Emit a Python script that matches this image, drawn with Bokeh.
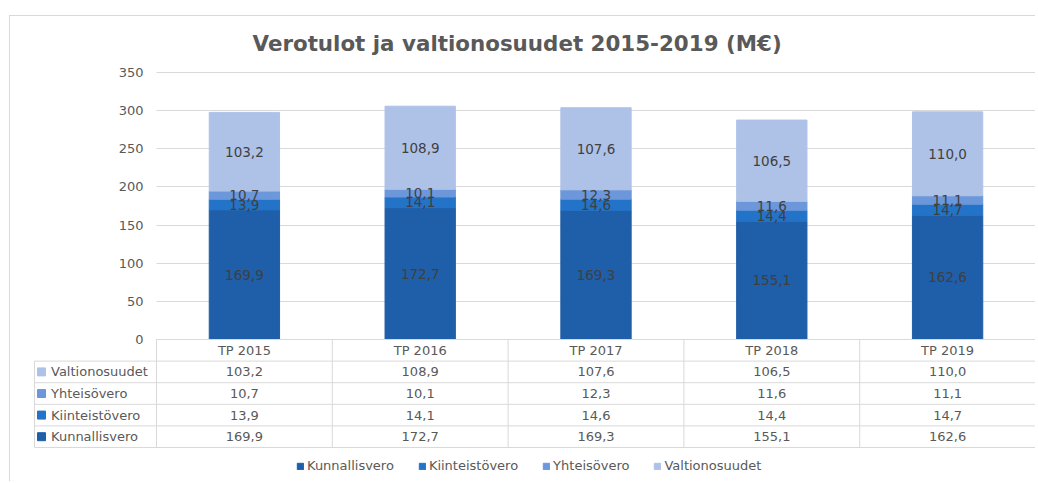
from bokeh.plotting import figure
from bokeh.models import (ColumnDataSource, Range1d, LinearAxis, FixedTicker, Grid,
                          Legend, LegendItem, BoxAnnotation)
from bokeh.core.properties import value
from bokeh.embed import file_html
from bokeh.resources import INLINE

# ---------------- data ----------------
CATEGORIES = ["TP 2015", "TP 2016", "TP 2017", "TP 2018", "TP 2019"]
KUNNALLISVERO = [169.9, 172.7, 169.3, 155.1, 162.6]
KIINTEISTOVERO = [13.9, 14.1, 14.6, 14.4, 14.7]
YHTEISOVERO = [10.7, 10.1, 12.3, 11.6, 11.1]
VALTIONOSUUDET = [103.2, 108.9, 107.6, 106.5, 110.0]
SERIES_NAMES = ["Kunnallisvero", "Kiinteistövero", "Yhteisövero", "Valtionosuudet"]
Y_TICKS = [0, 50, 100, 150, 200, 250, 300, 350]
TITLE = "Verotulot ja valtionosuudet 2015-2019 (M€)"

# ---------------- style / layout ----------------
COLORS = ["#1F5EA8", "#2373C8", "#6C97DA", "#AEC2E8"]
GRID_COLOR = "#D9D9D9"
TXT = "#595959"
LBL = "#404040"
FONT = "DejaVu Sans"

W, H = 1026, 466
TOP = 45
XS, XE = -0.8305, 5.0057
TBL_LEFT = -0.694          # left border of the table's label column
KEY_X = -0.654
NAME_X = -0.600
PX_PER_UNIT = 0.7629
ZERO_FROM_TOP = 278.0
ZERO_FROM_BOTTOM = 143.0
YE = ZERO_FROM_TOP / PX_PER_UNIT
YS = -ZERO_FROM_BOTTOM / PX_PER_UNIT
ROW = 21.6 / PX_PER_UNIT          # table row height in value units


def fmt(v):
    return f"{v:.1f}".replace(".", ",")


series = [KUNNALLISVERO, KIINTEISTOVERO, YHTEISOVERO, VALTIONOSUUDET]
n = len(CATEGORIES)
xs = [i + 0.5 for i in range(n)]

p = figure(width=W, height=H, x_range=Range1d(XS, XE), y_range=Range1d(YS, YE),
           x_axis_location=None, y_axis_location=None,
           toolbar_location=None, output_backend="svg",
           min_border_left=0, min_border_right=0, min_border_bottom=0, min_border_top=TOP)
p.center = []   # drop the default (hidden-axis) grids
p.outline_line_color = None
p.background_fill_color = "white"
p.border_fill_color = "white"
p.margin = (15, 0, 0, 9)
p.styles = {"border-left": "1px solid #D9D9D9", "border-top": "1px solid #D9D9D9"}
p.extra_y_ranges = {"tbl": Range1d(start=-YS / ROW, end=-YE / ROW)}

# title
p.title.text = TITLE
p.title.text_font = FONT
p.title.text_font_style = "bold"
p.title.text_font_size = "21.4px"
p.title.text_color = TXT
p.title.align = "left"
p.title.offset = 242
p.title.standoff = 12

# grid
grid_kwargs = dict(dimension=1, ticker=FixedTicker(ticks=Y_TICKS[1:]),
                   grid_line_color=GRID_COLOR, grid_line_width=1)
has_cross = "cross_bounds" in Grid.properties()
if has_cross:
    grid_kwargs["cross_bounds"] = (0, XE)
p.add_layout(Grid(**grid_kwargs))
if not has_cross:
    p.add_layout(BoxAnnotation(left=XS, right=0, bottom=1, top=YE, fill_color="white",
                               fill_alpha=1, line_color=None, level="underlay"))

# y axis placed at the left edge of the plot area
yaxis = LinearAxis(fixed_location=0, ticker=FixedTicker(ticks=Y_TICKS))
yaxis.axis_line_color = None
yaxis.major_tick_line_color = None
yaxis.minor_tick_line_color = None
yaxis.major_tick_out = 0
yaxis.major_tick_in = 0
yaxis.major_label_standoff = 13
yaxis.major_label_text_font = FONT
yaxis.major_label_text_font_size = "13px"
yaxis.major_label_text_color = TXT
p.add_layout(yaxis, "left")

# stacked bars
data = {"x": xs}
for name, vals in zip(SERIES_NAMES, series):
    data[name] = vals
src = ColumnDataSource(data)
renderers = p.vbar_stack(SERIES_NAMES, x="x", width=0.4, color=COLORS, source=src)

# data labels centred in each segment
bottoms = [0.0] * n
lx, ly, lt = [], [], []
for vals in series:
    for i, v in enumerate(vals):
        lx.append(xs[i])
        ly.append(bottoms[i] + v / 2)
        lt.append(fmt(v))
        bottoms[i] += v
p.text(x=lx, y=ly, text=lt, text_font=value(FONT), text_font_size="13.5px",
       text_color=LBL, text_align="center", text_baseline="middle")

# ---------------- data table ----------------
rows_top_to_bottom = list(reversed(range(len(SERIES_NAMES))))  # Valtionosuudet first
nrows = len(SERIES_NAMES) + 1
seg_x0, seg_y0, seg_x1, seg_y1 = [], [], [], []
seg_x0.append(0); seg_y0.append(0); seg_x1.append(n); seg_y1.append(0)
for r in range(1, nrows + 1):
    seg_x0.append(TBL_LEFT); seg_y0.append(r); seg_x1.append(n); seg_y1.append(r)
for k in range(n + 1):
    seg_x0.append(k); seg_y0.append(0); seg_x1.append(k); seg_y1.append(nrows)
seg_x0.append(TBL_LEFT); seg_y0.append(1); seg_x1.append(TBL_LEFT); seg_y1.append(nrows)
p.segment(x0=seg_x0, y0=seg_y0, x1=seg_x1, y1=seg_y1, y_range_name="tbl",
          line_color=GRID_COLOR, line_width=1)

# header
p.text(x=xs, y=[0.5] * n, text=CATEGORIES, y_range_name="tbl", text_font=value(FONT),
       text_font_size="13px", text_color=TXT, text_align="center", text_baseline="middle")

tx, ty, tt = [], [], []
kx, ky, kc, nx, ny, nt = [], [], [], [], [], []
for row, s in enumerate(rows_top_to_bottom, start=1):
    kx.append(KEY_X); ky.append(row + 0.5); kc.append(COLORS[s])
    nx.append(NAME_X); ny.append(row + 0.5); nt.append(SERIES_NAMES[s])
    for i, v in enumerate(series[s]):
        tx.append(xs[i]); ty.append(row + 0.5); tt.append(fmt(v))
p.scatter(x=kx, y=ky, marker="square", size=8, color=kc, y_range_name="tbl")
p.text(x=nx, y=ny, text=nt, y_range_name="tbl", text_font=value(FONT),
       text_font_size="13px", text_color=TXT, text_align="left", text_baseline="middle")
p.text(x=tx, y=ty, text=tt, y_range_name="tbl", text_font=value(FONT),
       text_font_size="13px", text_color=TXT, text_align="center", text_baseline="middle")

# legend
legend = Legend(items=[LegendItem(label=value(nm), renderers=[r])
                       for nm, r in zip(SERIES_NAMES, renderers)],
                orientation="horizontal", location=(286, 9),
                glyph_width=8, glyph_height=8, label_standoff=3, spacing=24,
                label_height=14, padding=0, margin=0,
                border_line_color=None, background_fill_alpha=0,
                label_text_font=FONT, label_text_font_size="13px", label_text_color=TXT)
p.add_layout(legend)

open("out.html", "w").write(file_html(p, INLINE))
